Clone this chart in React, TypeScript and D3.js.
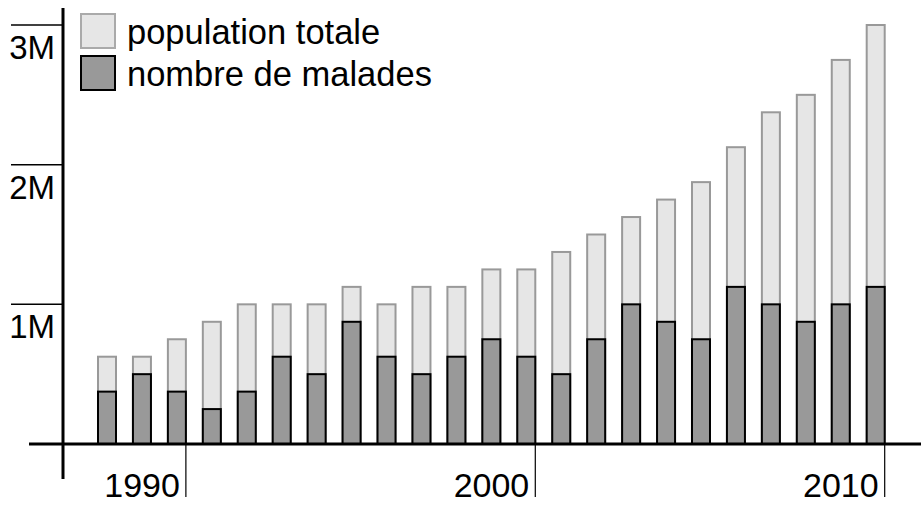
import { useRef, useEffect } from "react";
import * as d3 from "d3";

// years 1988 .. 2010, values in millions
const years = d3.range(1988, 2011);
const totalPopulation = [
  0.625, 0.625, 0.75, 0.875, 1, 1, 1, 1.125, 1, 1.125, 1.125, 1.25, 1.25,
  1.375, 1.5, 1.625, 1.75, 1.875, 2.125, 2.375, 2.5, 2.75, 3,
];
const sickCount = [
  0.375, 0.5, 0.375, 0.25, 0.375, 0.625, 0.5, 0.875, 0.625, 0.5, 0.625, 0.75,
  0.625, 0.5, 0.75, 1, 0.875, 0.75, 1.125, 1, 0.875, 1, 1.125,
];
const yTicks = [1, 2, 3];
const yTickLabels = ["1M", "2M", "3M"];
const xTicks = [1990, 2000, 2010];
const legendLabels = ["population totale", "nombre de malades"];

const W = 921;
const H = 505;
const FONT = "'Liberation Sans', Arial, sans-serif";

const App = () => {
  const svgRef = useRef<SVGSVGElement | null>(null);

  useEffect(() => {
    if (!svgRef.current) return;
    const svg = d3.select(svgRef.current);
    svg.selectAll("*").remove();

    const barW = 18;
    const x = d3.scaleLinear().domain([1988, 2010]).range([98, 866.7]);
    const y = d3.scaleLinear().domain([0, 3]).range([444, 25]);

    const data = years.map((yr, i) => ({
      year: yr,
      total: totalPopulation[i],
      sick: sickCount[i],
    }));

    // total population bars (behind)
    svg
      .append("g")
      .selectAll("rect")
      .data(data)
      .join("rect")
      .attr("x", (d) => x(d.year))
      .attr("y", (d) => y(d.total))
      .attr("width", barW)
      .attr("height", (d) => y(0) - y(d.total))
      .attr("fill", "#e6e6e6")
      .attr("stroke", "#999")
      .attr("stroke-width", 2);

    // sick bars
    svg
      .append("g")
      .selectAll("rect")
      .data(data)
      .join("rect")
      .attr("x", (d) => x(d.year))
      .attr("y", (d) => y(d.sick))
      .attr("width", barW)
      .attr("height", (d) => y(0) - y(d.sick))
      .attr("fill", "#999")
      .attr("stroke", "#000")
      .attr("stroke-width", 2);

    // axes lines
    svg
      .append("line")
      .attr("x1", 29)
      .attr("x2", W)
      .attr("y1", y(0))
      .attr("y2", y(0))
      .attr("stroke", "#000")
      .attr("stroke-width", 3);
    svg
      .append("line")
      .attr("x1", 63)
      .attr("x2", 63)
      .attr("y1", 8)
      .attr("y2", 479)
      .attr("stroke", "#000")
      .attr("stroke-width", 3);

    // y ticks: line above the label
    const yt = svg.append("g").selectAll("g").data(yTicks).join("g");
    yt.append("line")
      .attr("x1", 11)
      .attr("x2", 62)
      .attr("y1", (d) => y(d))
      .attr("y2", (d) => y(d))
      .attr("stroke", "#000")
      .attr("stroke-width", 1.5);
    yt.append("text")
      .attr("x", 55)
      .attr("y", (d) => y(d) + 34)
      .attr("text-anchor", "end")
      .attr("font-family", FONT)
      .attr("font-size", 33)
      .text((d, i) => yTickLabels[i]);

    // x ticks: at right edge of the year's bar, label to the left
    const xt = svg.append("g").selectAll("g").data(xTicks).join("g");
    xt.append("line")
      .attr("x1", (d) => x(d) + barW)
      .attr("x2", (d) => x(d) + barW)
      .attr("y1", y(0))
      .attr("y2", 497)
      .attr("stroke", "#000")
      .attr("stroke-width", 1.2);
    xt.append("text")
      .attr("x", (d) => x(d) + barW - 6)
      .attr("y", 497)
      .attr("text-anchor", "end")
      .attr("font-family", FONT)
      .attr("font-size", 34)
      .text((d) => String(d));

    // legend
    const legendFill = ["#e6e6e6", "#999"];
    const legendStroke = ["#aaa", "#000"];
    const lg = svg.append("g").selectAll("g").data(legendLabels).join("g");
    lg.append("rect")
      .attr("x", 81)
      .attr("y", (d, i) => 14 + i * 42)
      .attr("width", 34)
      .attr("height", 34)
      .attr("fill", (d, i) => legendFill[i])
      .attr("stroke", (d, i) => legendStroke[i])
      .attr("stroke-width", 2);
    lg.append("text")
      .attr("x", 127)
      .attr("y", (d, i) => 44 + i * 42)
      .attr("font-family", FONT)
      .attr("font-size", 34.5)
      .text((d) => d);
  }, []);

  return (
    <svg
      ref={svgRef}
      width={W}
      height={H}
      style={{ position: "absolute", left: 0, top: 0, background: "#fff" }}
    ></svg>
  );
};

export default App;
